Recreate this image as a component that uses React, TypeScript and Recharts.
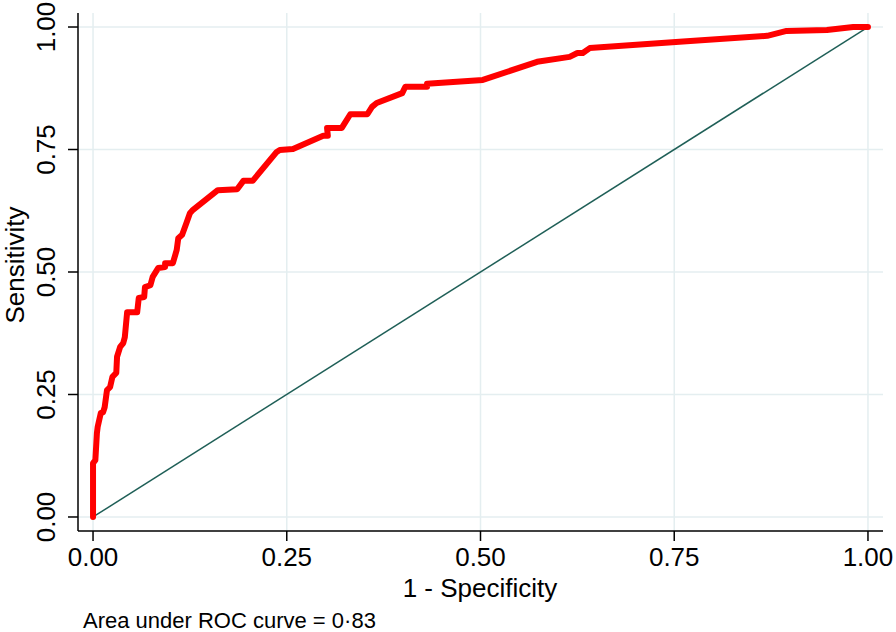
import { LineChart, Line, XAxis, YAxis, CartesianGrid } from 'recharts';

// ROC curve points: [1 - specificity, sensitivity]
const rocFpr = [
  0, 0, 0, 0.003, 0.005, 0.006, 0.01, 0.013, 0.015, 0.018, 0.022, 0.025, 0.03, 0.031, 0.035,
  0.039, 0.041, 0.044, 0.057, 0.059, 0.066, 0.067, 0.074, 0.077, 0.084, 0.093, 0.093, 0.103,
  0.108, 0.11, 0.115, 0.121, 0.125, 0.129, 0.161, 0.186, 0.194, 0.206, 0.237, 0.241, 0.258,
  0.297, 0.303, 0.302, 0.321, 0.332, 0.354, 0.36, 0.366, 0.399, 0.403, 0.431, 0.431, 0.503,
  0.573, 0.615, 0.625, 0.632, 0.641, 0.766, 0.87, 0.895, 0.947, 0.981, 1,
];
const rocTpr = [
  0, 0.061, 0.11, 0.116, 0.171, 0.184, 0.212, 0.214, 0.224, 0.259, 0.265, 0.286, 0.294, 0.327,
  0.347, 0.355, 0.367, 0.418, 0.418, 0.447, 0.449, 0.469, 0.473, 0.49, 0.508, 0.51, 0.518,
  0.518, 0.545, 0.569, 0.576, 0.602, 0.62, 0.627, 0.667, 0.669, 0.686, 0.686, 0.745, 0.749,
  0.751, 0.778, 0.778, 0.794, 0.794, 0.822, 0.822, 0.837, 0.845, 0.865, 0.878, 0.878, 0.884,
  0.892, 0.929, 0.939, 0.947, 0.947, 0.957, 0.971, 0.982, 0.992, 0.994, 1, 1,
];
const refX = [0, 1];
const refY = [0, 1];
const ticks = [0, 0.25, 0.5, 0.75, 1];

const rocData = rocFpr.map((x, i) => ({ x, y: rocTpr[i] }));
const refData = refX.map((x, i) => ({ x, y: refY[i] }));

const xDomain = [-0.0194, 1.0194];
const yDomain = [-0.0286, 1.0286];

const font = '"Liberation Sans", Arial, sans-serif';
const gridColor = '#e4eef0';

const XTick = (props: any) => {
  const { x, y, payload } = props;
  return (
    <text x={x} y={y + 23} textAnchor="middle" fontSize={26} fontFamily={font} fill="#000">
      {Number(payload.value).toFixed(2)}
    </text>
  );
};

const YTick = (props: any) => {
  const { x, y, payload } = props;
  return (
    <text
      x={x - 11}
      y={y}
      transform={`rotate(-90 ${x - 11} ${y})`}
      textAnchor="middle"
      fontSize={26}
      fontFamily={font}
      fill="#000"
    >
      {Number(payload.value).toFixed(2)}
    </text>
  );
};

// grid only at the tick values, no lines along the plot's edges
const gridX = ({ offset }: any) =>
  ticks.map((t) => offset.left + ((t - xDomain[0]) / (xDomain[1] - xDomain[0])) * offset.width);
const gridY = ({ offset }: any) =>
  ticks.map((t) => offset.top + ((yDomain[1] - t) / (yDomain[1] - yDomain[0])) * offset.height);

const GridLine = (p: any) => (
  <line key={p.key} x1={p.x1} y1={p.y1} x2={p.x2} y2={p.y2} stroke={gridColor} strokeWidth={1.5} />
);

export default function App() {
  return (
    <div style={{ position: 'absolute', left: 0, top: 0, width: 896, height: 632, background: '#fff' }}>
      <LineChart width={896} height={632} margin={{ top: 13, right: 13, bottom: 31, left: 0 }}>
        <CartesianGrid
          stroke="none"
          fill="none"
          horizontal={GridLine}
          vertical={GridLine}
          verticalCoordinatesGenerator={gridX}
          horizontalCoordinatesGenerator={gridY}
        />
        <XAxis
          dataKey="x"
          type="number"
          domain={xDomain}
          allowDataOverflow
          ticks={ticks}
          tick={<XTick />}
          tickSize={10}
          height={70}
          axisLine={{ stroke: '#000', strokeWidth: 1.5 }}
          tickLine={{ stroke: '#000', strokeWidth: 1.5 }}
        />
        <YAxis
          dataKey="y"
          type="number"
          domain={yDomain}
          allowDataOverflow
          ticks={ticks}
          tick={<YTick />}
          tickSize={10}
          width={78}
          axisLine={{ stroke: '#000', strokeWidth: 1.5 }}
          tickLine={{ stroke: '#000', strokeWidth: 1.5 }}
        />
        <Line
          data={refData}
          dataKey="y"
          type="linear"
          stroke="#1f5f57"
          strokeWidth={1.5}
          dot={false}
          isAnimationActive={false}
        />
        <Line
          data={rocData}
          dataKey="y"
          type="linear"
          stroke="#ff0000"
          strokeWidth={6}
          strokeLinejoin="round"
          strokeLinecap="round"
          dot={false}
          isAnimationActive={false}
        />
      </LineChart>
      <svg width={896} height={632} style={{ position: 'absolute', left: 0, top: 0, pointerEvents: 'none' }}>
        <text x={480} y={597} textAnchor="middle" fontSize={26} fontFamily={font} fill="#000">
          1 - Specificity
        </text>
        <text
          x={24}
          y={265}
          transform="rotate(-90 24 265)"
          textAnchor="middle"
          fontSize={26}
          fontFamily={font}
          fill="#000"
        >
          Sensitivity
        </text>
        <text x={83} y={628} fontSize={22} fontFamily={font} fill="#000">
          Area under ROC curve = 0·83
        </text>
      </svg>
    </div>
  );
}
